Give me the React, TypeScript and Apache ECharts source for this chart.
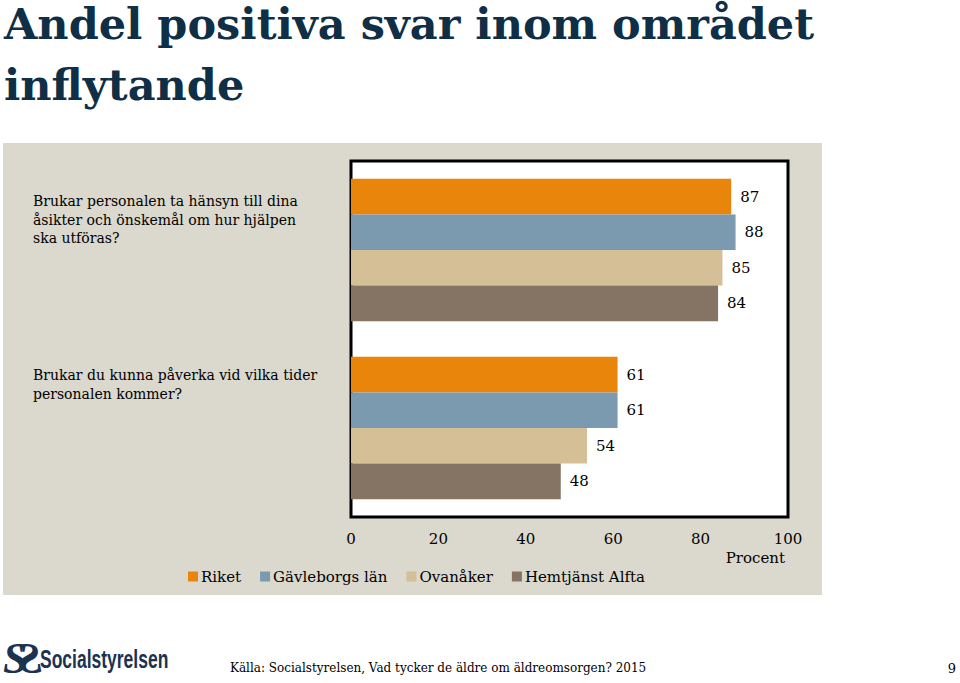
import React, { useEffect, useRef } from "react";
import * as echarts from "echarts";

const categories = [
  "Brukar personalen ta hänsyn till dina\nåsikter och önskemål om hur hjälpen\nska utföras?",
  "Brukar du kunna påverka vid vilka tider\npersonalen kommer?",
];
const seriesNames = ["Riket", "Gävleborgs län", "Ovanåker", "Hemtjänst Alfta"];
const riket = [87, 61];
const gavleborg = [88, 61];
const ovanaker = [85, 54];
const alfta = [84, 48];
const seriesValues = [riket, gavleborg, ovanaker, alfta];
const colors = ["#E8850A", "#7B9AAF", "#D5BF96", "#857464"];
const xTicks = [0, 20, 40, 60, 80, 100];
const titleLines = ["Andel positiva svar inom området", "inflytande"];

const SERIF = "'DejaVu Serif', 'Liberation Serif', serif";

export default function App() {
  const ref = useRef<HTMLDivElement>(null);
  useEffect(() => {
    if (!ref.current) return;
    const chart = echarts.init(ref.current, null, { renderer: "svg" });
    const labelTops = [192, 366];
    const titleTops = [2, 63];
    chart.setOption({
      animation: false,
      backgroundColor: "#ffffff",
      textStyle: { fontFamily: SERIF },
      grid: { left: 351, right: 172, top: 161, bottom: 166, show: true, borderColor: "#000", borderWidth: 3, backgroundColor: "#fff", z: 1 },
      xAxis: {
        type: "value",
        min: xTicks[0],
        max: xTicks[xTicks.length - 1],
        interval: 20,
        axisLine: { show: false },
        axisTick: { show: false },
        splitLine: { show: true, lineStyle: { color: "#8c8c8c", width: 1 } },
        axisLabel: { color: "#000", fontSize: 15, fontFamily: SERIF, margin: 14 },
      },
      yAxis: {
        type: "category",
        data: categories,
        inverse: true,
        axisLine: { show: false },
        axisTick: { show: false },
        axisLabel: { show: false },
      },
      legend: {
        data: seriesNames,
        left: 183,
        top: 564,
        itemWidth: 10,
        itemHeight: 10,
        itemGap: 19,
        icon: "rect",
        textStyle: { color: "#000", fontSize: 15, fontFamily: SERIF, padding: [0, 0, 0, -2] },
      },
      series: seriesNames.map((name, i) => ({
        type: "bar",
        name,
        data: seriesValues[i],
        barGap: "0%",
        barCategoryGap: "20%",
        itemStyle: { color: colors[i] },
        label: { show: true, position: "right", distance: 9, color: "#000", fontSize: 15, fontFamily: SERIF },
        z: 3,
      })),
      graphic: [
        { type: "rect", z: -10, shape: { x: 3, y: 143, width: 819, height: 452 }, style: { fill: "#DBD8CD" } },
        ...titleLines.map((t, i) => ({
          type: "text", x: 4, y: titleTops[i],
          style: { text: t, fill: "#0F2F47", font: `bold 43px ${SERIF}`, lineHeight: 43, verticalAlign: "top" },
        })),
        ...categories.map((c, i) => ({
          type: "text", x: 33, y: labelTops[i],
          style: { text: c, fill: "#000", font: `14px ${SERIF}`, lineHeight: 18.5 },
        })),
        { type: "text", x: 785, y: 550, style: { text: "Procent", fill: "#000", font: `15px ${SERIF}`, align: "right" } },
        { type: "text", x: 3, y: 636, style: { text: "S", fill: "#1B3350", font: "bold italic 44px 'Liberation Serif', serif" } },
        { type: "text", x: 42, y: 636, scaleX: -1, style: { text: "S", fill: "#1B3350", font: "bold italic 44px 'Liberation Serif', serif" } },
        { type: "text", x: 40, y: 647, scaleX: 0.7, style: { text: "Socialstyrelsen", fill: "#1B3350", font: "bold 25px 'Liberation Sans', sans-serif" } },
        { type: "text", x: 230, y: 662, style: { text: "Källa: Socialstyrelsen, Vad tycker de äldre om äldreomsorgen? 2015", fill: "#000", font: `12px ${SERIF}` } },
        { type: "text", x: 956, y: 662, style: { text: "9", fill: "#000", font: `13px ${SERIF}`, align: "right" } },
      ],
    });
    return () => chart.dispose();
  }, []);
  return <div ref={ref} style={{ position: "fixed", left: 0, top: 0, width: 960, height: 683 }} />;
}
